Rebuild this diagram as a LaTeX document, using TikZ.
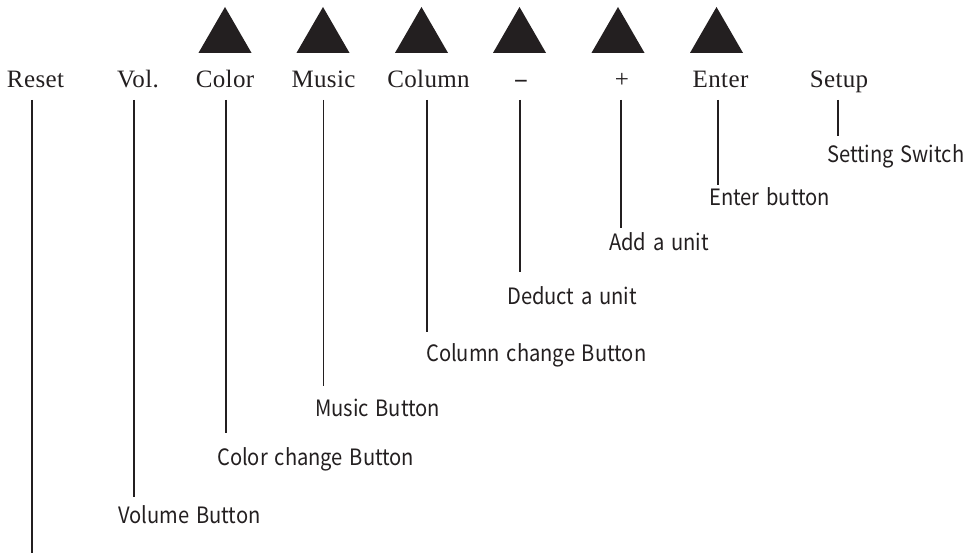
\documentclass[tikz,border=0pt]{standalone}
\usepackage{fontspec}
\setmainfont{Liberation Serif}
\newfontfamily\calloutfont[FakeStretch=0.895,WordSpace=1.5]{Noto Sans CJK SC}
\usetikzlibrary{shapes.geometric}
\definecolor{panelInk}{RGB}{35,31,32}

\begin{document}
\begin{tikzpicture}[x=1pt, y=-1pt,
        keycap/.style={regular polygon, regular polygon sides=3, fill=panelInk, draw=none, inner sep=0pt, outer sep=0pt, minimum size=61.2pt},
        keyname/.style={anchor=base, inner sep=0pt, text=panelInk, font=\fontsize{25}{30}\selectfont\addfontfeatures{LetterSpace=1.5}},
        callout/.style={anchor=base west, inner sep=0pt, text=panelInk, font=\calloutfont\fontsize{22.5}{26}\selectfont},
        leader/.style={draw=panelInk, line width=1.3pt}
    ]
    \useasboundingbox (0,0) rectangle (973,553);
    \node[keycap] (capColor) at (225,37.6) {};
    \node[keycap] (capMusic) at (323,37.6) {};
    \node[keycap] (capColumn) at (421.5,37.6) {};
    \node[keycap] (capMinus) at (519.5,37.6) {};
    \node[keycap] (capPlus) at (618,37.6) {};
    \node[keycap] (capEnter) at (716.5,37.6) {};
    \node[keyname] (reset) at (35.5,88) {Reset};
    \node[keyname] (vol) at (138,88) {Vol.};
    \node[keyname] (color) at (225,88) {Color};
    \node[keyname] (music) at (323.5,88) {Music};
    \node[keyname] (column) at (428.5,88) {Column};
    \node[keyname] (minus) at (521,90) {\bfseries −};
    \node[keyname] (plus) at (622,88) {+};
    \node[keyname] (enter) at (720.5,88) {Enter};
    \node[keyname] (setup) at (839,88) {Setup};
    \node[callout] (volInfo) at (118,523) {Volume Button};
    \node[callout] (colorInfo) at (217,465) {Color change Button};
    \node[callout] (musicInfo) at (315,416) {Music Button};
    \node[callout] (columnInfo) at (426,361.5) {Column change Button};
    \node[callout] (minusInfo) at (507,304) {Deduct a unit};
    \node[callout] (plusInfo) at (609,250) {Add a unit};
    \node[callout] (enterInfo) at (709,206) {Enter button};
    \node[callout] (setupInfo) at (827,163) {Setting Switch};
    \coordinate (resetEnd) at (32,553);
    \draw[leader] ([xshift=-3.5pt,yshift=-12pt]reset.base) -- (resetEnd);
    \draw[leader] ([xshift=-4pt,yshift=-12pt]vol.base) -- ([xshift=-4pt,yshift=26pt]vol.base |- volInfo.base);
    \draw[leader] ([xshift=1pt,yshift=-12pt]color.base) -- ([xshift=1pt,yshift=32pt]color.base |- colorInfo.base);
    \draw[leader] ([yshift=-12pt]music.base) -- ([yshift=30pt]music.base |- musicInfo.base);
    \draw[leader] ([xshift=-1.5pt,yshift=-12pt]column.base) -- ([xshift=-1.5pt,yshift=30pt]column.base |- columnInfo.base);
    \draw[leader] ([xshift=-1pt,yshift=-10pt]minus.base) -- ([xshift=-1pt,yshift=32pt]minus.base |- minusInfo.base);
    \draw[leader] ([xshift=-1pt,yshift=-12pt]plus.base) -- ([xshift=-1pt,yshift=22pt]plus.base |- plusInfo.base);
    \draw[leader] ([xshift=-2.5pt,yshift=-12pt]enter.base) -- ([xshift=-2.5pt,yshift=21pt]enter.base |- enterInfo.base);
    \draw[leader] ([xshift=-1pt,yshift=-12pt]setup.base) -- ([xshift=-1pt,yshift=27pt]setup.base |- setupInfo.base);
\end{tikzpicture}
\end{document}
